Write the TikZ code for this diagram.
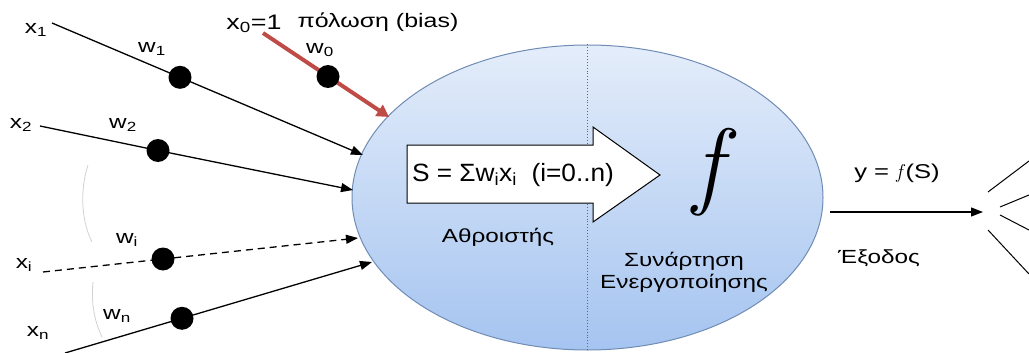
\documentclass[tikz,border=0pt]{standalone}
\usepackage{fontspec}
\setmainfont{Liberation Sans}[FakeStretch=1.28]
\newfontfamily\sumfont{Liberation Sans}[FakeStretch=1.05]
\newcommand\lmf{\fontfamily{lmr}\itshape}
\usetikzlibrary{shapes.geometric,arrows.meta,calc}
\newcommand\lsub[1]{\textsubscript{#1}}
\definecolor{bordercol}{RGB}{112,140,180}
\definecolor{topcol}{RGB}{228,237,250}
\definecolor{botcol}{RGB}{165,196,240}
\definecolor{biasred}{RGB}{190,75,70}
\tikzset{
  lbl/.style={font=\fontsize{19}{19}\selectfont, inner sep=0pt},
  txt/.style={font=\fontsize{19}{22}\selectfont, align=center, inner sep=0pt},
  dot/.style={circle, fill=black, minimum size=23pt, inner sep=0pt},
  conn/.style={line width=1.3pt, -{Triangle[length=12pt,width=9pt]}},
  grayarc/.style={draw=gray!35, line width=0.8pt},
}
\begin{document}
\begin{tikzpicture}[x=1pt,y=-1pt]
\useasboundingbox (0,0) rectangle (1029,353);
% neuron body
\node[ellipse, draw=bordercol, line width=1pt, top color=topcol, bottom color=botcol,
      minimum width=471pt, minimum height=305pt, inner sep=0pt] (neuron) at (587.5,197.5) {};
\draw[dotted, line width=0.9pt, draw=black!60] (neuron.north) -- (neuron.south);
% summation arrow
\draw[fill=white, line width=1pt] (407,145) -- (593,145) -- (593,127) -- (660,175)
   -- (593,222) -- (593,203) -- (407,203) -- cycle;
\node[inner sep=0pt, font=\sumfont\fontsize{25}{25}\selectfont] (sum) at (513,175) {S = Σw\lsub{i}x\lsub{i}\ \ (i=0..n)};
\node[inner sep=0pt] (f) at (708,172) {\lmf\fontsize{97}{97}\selectfont f};
\node[txt] (athr) at (498,237) {Αθροιστής};
\node[txt] (act) at (684,272) {Συνάρτηση\\Ενεργοποίησης};
% input points
\coordinate (s1) at (52,23);   \coordinate (t1) at (363,155);
\coordinate (s2) at (40,126);  \coordinate (t2) at (353,190);
\coordinate (si) at (43,272);  \coordinate (ti) at (358,238);
\coordinate (sn) at (65,353);  \coordinate (tn) at (372,262);
\coordinate (s0) at (263,33);  \coordinate (t0) at (389,117);
\node[dot] (d1) at ($(s1)!0.4116!(t1)$) {};
\draw[conn] (s1) -- (d1.center) -- (t1);
\node[dot] (d2) at (158,150.5) {};
\draw[conn] (s2) -- (d2.center) -- (t2);
\node[dot] (di) at (163,259) {};
\draw[conn, dash pattern=on 7pt off 5pt] (si) -- (di.center) -- (ti);
\node[dot] (dn) at (182,318.3) {};
\draw[conn] (sn) -- (dn.center) -- (tn);
\draw[line width=4pt, draw=biasred, -{Triangle[length=12pt,width=13pt]}] (s0) -- (t0);
\node[dot] (d0) at (328,76.5) {};
% labels
\node[lbl] (lx1) at (36,30) {x\lsub{1}};
\node[lbl] (lw1) at (152,49) {w\lsub{1}};
\node[lbl] (lx2) at (21,125) {x\lsub{2}};
\node[lbl] (lw2) at (123,125) {w\lsub{2}};
\node[lbl] (lxi) at (24,265) {x\lsub{i}};
\node[lbl] (lwi) at (127,240) {w\lsub{i}};
\node[lbl] (lxn) at (38,333) {x\lsub{n}};
\node[lbl] (lwn) at (117,316) {w\lsub{n}};
\node[lbl] (lw0) at (320,50) {w\lsub{0}};
\node[lbl, font=\fontsize{21}{21}\selectfont] (lx0) at (254,24) {x\lsub{0}=1};
\node[txt, font=\fontsize{19.5}{22}\selectfont] (bias) at (378,22) {πόλωση (bias)};
% gray arcs
\draw[grayarc] (88,165) .. controls (80,190) and (81,220) .. (92,242);
\draw[grayarc] (93,282) .. controls (91,302) and (94,320) .. (102,337);
% output
\coordinate (o1) at (830,212);
\coordinate (o2) at (983,212);
\draw[conn] (o1) -- (o2);
\node[txt, font=\fontsize{20}{22}\selectfont] (yout) at (897,173) {y = {\lmf f}\,(S)};
\node[txt] (exodos) at (879,258) {Έξοδος};
% fan-out lines
\draw[line width=1pt] (988,192) -- (1029,161);
\draw[line width=1pt] (1000,207) -- (1029,195);
\draw[line width=1pt] (1000,215) -- (1029,230);
\draw[line width=1pt] (988,230) -- (1029,274);
\end{tikzpicture}
\end{document}
